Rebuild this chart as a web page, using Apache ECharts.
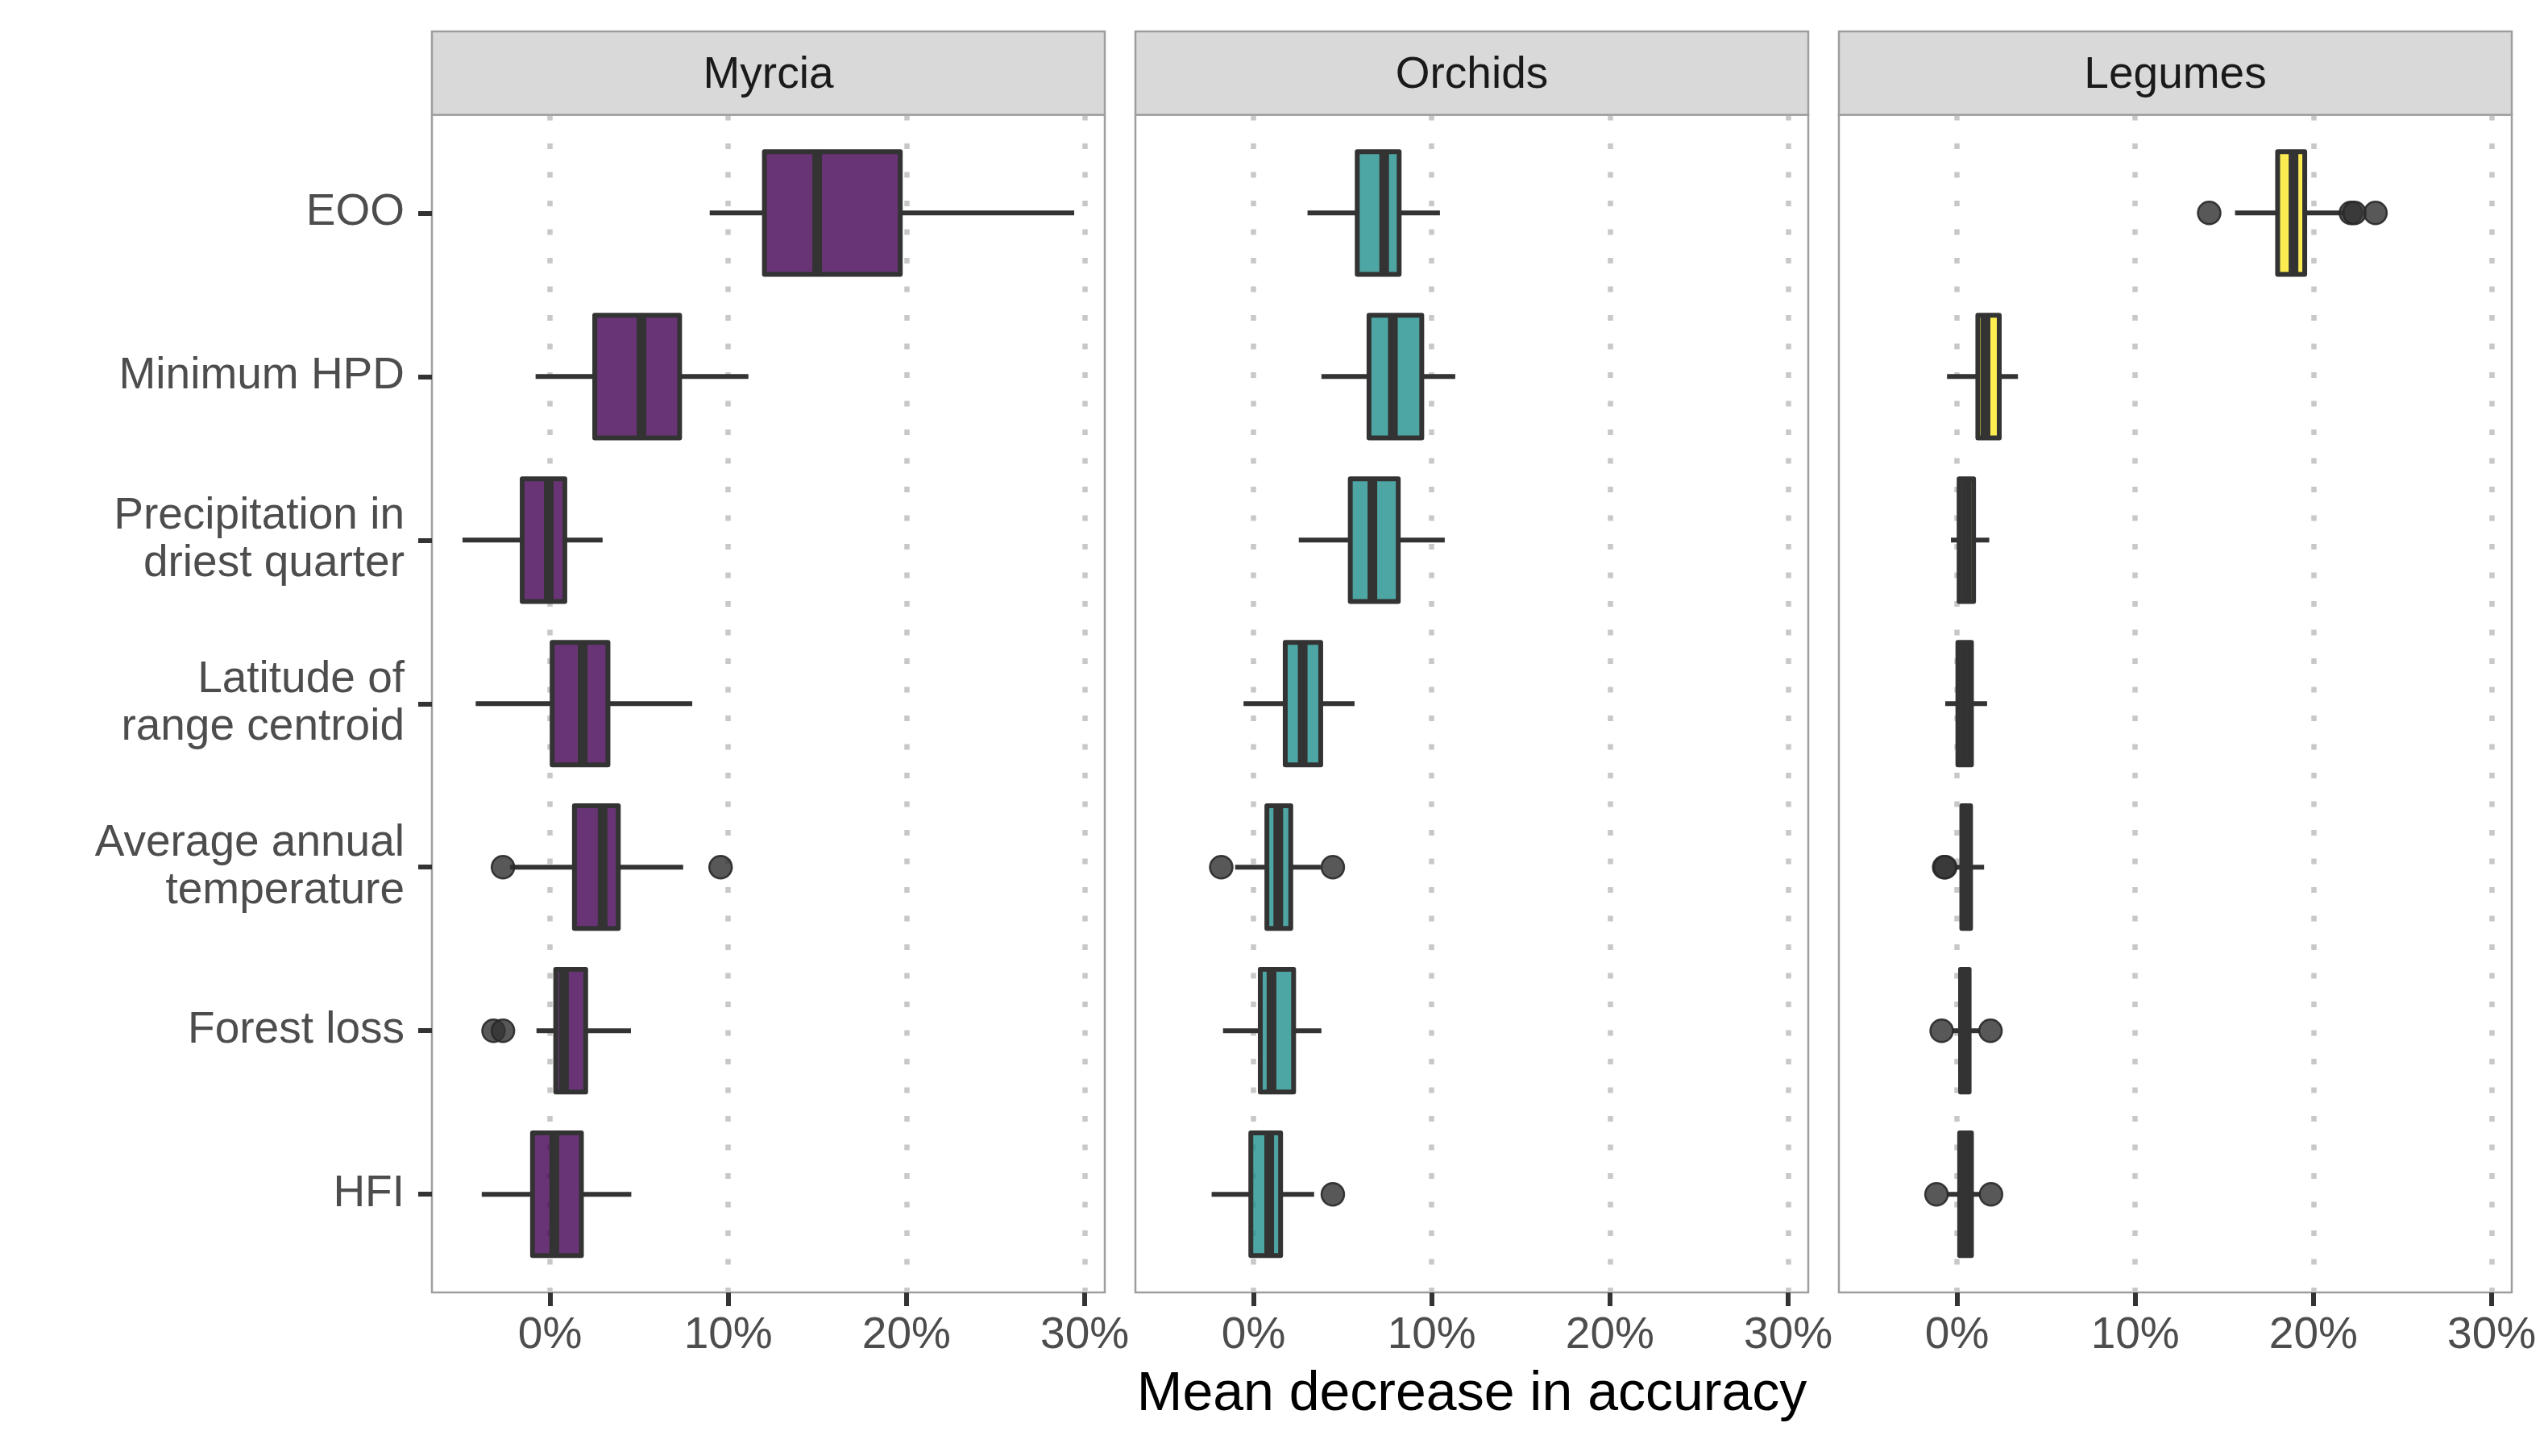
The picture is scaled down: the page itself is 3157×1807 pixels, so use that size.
<!DOCTYPE html>
<html><head><meta charset="utf-8">
<script src="https://cdn.jsdelivr.net/npm/echarts@6/dist/echarts.min.js"></script>
<style>html,body{margin:0;padding:0;background:#fff}#chart{width:3157px;height:1807px}</style>
</head><body><div id="chart"></div>
<script>
// ---------------- data ----------------
const categories = ['EOO', 'Minimum HPD', 'Precipitation in\ndriest quarter', 'Latitude of\nrange centroid',
  'Average annual\ntemperature', 'Forest loss', 'HFI'];
const panels = ['Myrcia', 'Orchids', 'Legumes'];
const xTicks = [0, 10, 20, 30];

const myrciaLow    = [8.96, -0.81, -4.91, -4.17, -2.25, -0.76, -3.83];
const myrciaQ1     = [12.03, 2.51, -1.56, 0.12, 1.37, 0.32, -0.98];
const myrciaMedian = [14.99, 5.13, -0.07, 1.83, 2.95, 0.78, 0.24];
const myrciaQ3     = [19.65, 7.27, 0.83, 3.25, 3.83, 2.00, 1.76];
const myrciaHigh   = [29.41, 11.13, 2.95, 7.98, 7.47, 4.54, 4.56];
const myrciaOutliers = [[4, -2.64], [4, 9.57], [5, -3.17], [5, -2.64]];

const orchidsLow    = [3.03, 3.81, 2.54, -0.56, -1.03, -1.71, -2.35];
const orchidsQ1     = [5.82, 6.48, 5.43, 1.78, 0.75, 0.38, -0.15];
const orchidsMedian = [7.33, 7.82, 6.67, 2.76, 1.39, 1.01, 0.88];
const orchidsQ3     = [8.17, 9.44, 8.12, 3.77, 2.09, 2.25, 1.52];
const orchidsHigh   = [10.46, 11.32, 10.73, 5.67, 3.77, 3.81, 3.40];
const orchidsOutliers = [[4, -1.81], [4, 4.45], [6, 4.45]];

const legumesLow    = [15.60, -0.56, -0.34, -0.66, -0.15, -0.24, -0.56];
const legumesQ1     = [17.99, 1.17, 0.12, 0.05, 0.27, 0.20, 0.15];
const legumesMedian = [18.88, 1.60, 0.52, 0.43, 0.51, 0.44, 0.47];
const legumesQ3     = [19.51, 2.37, 0.93, 0.81, 0.76, 0.68, 0.81];
const legumesHigh   = [21.80, 3.42, 1.81, 1.69, 1.52, 1.27, 1.30];
const legumesOutliers = [[0, 14.15], [0, 22.10], [0, 22.30], [0, 23.48], [4, -0.72], [4, -0.66],
  [5, -0.86], [5, 1.88], [6, -1.15], [6, 1.91]];

// ---------------- style / layout ----------------
const FONT = "'Liberation Sans', Arial, sans-serif";
const fills = ['rgba(68,1,84,0.8)', 'rgba(33,144,140,0.8)', 'rgba(253,231,37,0.8)'];
const PANEL_LEFT = [536, 1409, 2282], PANEL_W = 835, PANEL_TOP = 142.5, PANEL_H = 1461.5, STRIP_TOP = 39;
const BOX_WIDTH = 0.75;
const DARK = '#333333';

const stats = [
  [myrciaLow, myrciaQ1, myrciaMedian, myrciaQ3, myrciaHigh, myrciaOutliers],
  [orchidsLow, orchidsQ1, orchidsMedian, orchidsQ3, orchidsHigh, orchidsOutliers],
  [legumesLow, legumesQ1, legumesMedian, legumesQ3, legumesHigh, legumesOutliers]
];

// shared x range with ggplot-like 5% expansion
let allVals = [];
stats.forEach(s => { allVals = allVals.concat(s[0], s[4], s[5].map(o => o[1])); });
const dMin = Math.min(...allVals), dMax = Math.max(...allVals);
const xMin = dMin - 0.05 * (dMax - dMin), xMax = dMax + 0.05 * (dMax - dMin);
const positions = categories.map((c, i) => i + 1);

function renderBox(fill) {
  return function (params, api) {
    const pos = api.value(0);
    const pLow = api.coord([api.value(1), pos]);
    const pQ1 = api.coord([api.value(2), pos]);
    const pMed = api.coord([api.value(3), pos]);
    const pQ3 = api.coord([api.value(4), pos]);
    const pHigh = api.coord([api.value(5), pos]);
    const bw = Math.abs(api.size([0, BOX_WIDTH])[1]);
    const top = pQ1[1] - bw / 2;
    return {
      type: 'group',
      children: [
        { type: 'line', shape: { x1: pLow[0], y1: pLow[1], x2: pQ1[0], y2: pQ1[1] }, style: { stroke: DARK, lineWidth: 6 } },
        { type: 'line', shape: { x1: pQ3[0], y1: pQ3[1], x2: pHigh[0], y2: pHigh[1] }, style: { stroke: DARK, lineWidth: 6 } },
        { type: 'rect', shape: { x: pQ1[0], y: top, width: pQ3[0] - pQ1[0], height: bw },
          style: { fill: fill, stroke: DARK, lineWidth: 6, lineJoin: 'round' } },
        { type: 'line', shape: { x1: pMed[0], y1: top, x2: pMed[0], y2: top + bw }, style: { stroke: DARK, lineWidth: 12 } }
      ]
    };
  };
}

const grids = [], xAxes = [], yAxes = [], series = [], graphics = [];
panels.forEach((name, i) => {
  grids.push({ left: PANEL_LEFT[i], top: PANEL_TOP, width: PANEL_W, height: PANEL_H, show: true,
    borderColor: '#9e9e9e', borderWidth: 2.5, backgroundColor: '#ffffff', containLabel: false, outerBoundsMode: 'none' });
  const xa = {
    type: 'value', gridIndex: i, min: xMin, max: xMax, position: 'bottom',
    axisLine: { show: false, onZero: false },
    axisTick: { show: true, length: 17, customValues: xTicks, lineStyle: { color: DARK, width: 6 } },
    axisLabel: { customValues: xTicks, formatter: v => v + '%', fontSize: 55, color: '#4d4d4d', margin: 26, fontFamily: FONT },
    splitLine: { show: true, lineStyle: { color: '#c8c8c8', width: 6.5, type: [7, 28.5] } },
    minorSplitLine: { show: false }
  };
  if (i === 1) {
    xa.name = 'Mean decrease in accuracy';
    xa.nameLocation = 'middle';
    xa.nameGap = 93;
    xa.nameTextStyle = { fontSize: 68, color: '#000000', fontFamily: FONT };
  }
  xAxes.push(xa);
  yAxes.push({
    type: 'value', gridIndex: i, inverse: true, min: 0.4, max: 7.6, position: 'left',
    axisLine: { show: false, onZero: false }, splitLine: { show: false },
    axisTick: { show: i === 0, length: 17, customValues: positions, lineStyle: { color: DARK, width: 6 } },
    axisLabel: { show: i === 0, customValues: positions, formatter: v => categories[Math.round(v) - 1],
      fontSize: 55, lineHeight: 59, color: '#4d4d4d', margin: 34, fontFamily: FONT, align: 'right' }
  });
  const s = stats[i];
  series.push({
    type: 'custom', xAxisIndex: i, yAxisIndex: i, z: 3,
    renderItem: renderBox(fills[i]),
    encode: { x: [1, 2, 3, 4, 5], y: 0 },
    data: categories.map((c, k) => [k + 1, s[0][k], s[1][k], s[2][k], s[3][k], s[4][k]]),
    silent: true
  });
  series.push({
    type: 'scatter', xAxisIndex: i, yAxisIndex: i, z: 4, symbol: 'circle', symbolSize: 28,
    itemStyle: { color: 'rgba(51,51,51,0.82)', borderColor: 'rgba(40,40,40,0.9)', borderWidth: 2.5, opacity: 1 },
    data: s[5].map(o => [o[1], o[0] + 1]),
    silent: true
  });
  graphics.push({ type: 'rect', shape: { x: PANEL_LEFT[i], y: STRIP_TOP, width: PANEL_W, height: PANEL_TOP - STRIP_TOP },
    style: { fill: '#d9d9d9', stroke: '#9e9e9e', lineWidth: 2.5 }, z: 10 });
  graphics.push({ type: 'text', x: PANEL_LEFT[i] + PANEL_W / 2, y: (STRIP_TOP + PANEL_TOP) / 2 + 3, z: 11,
    style: { text: name, fill: '#1a1a1a', fontSize: 55, fontFamily: FONT, align: 'center', verticalAlign: 'middle' } });
});

const chart = echarts.init(document.getElementById('chart'), null, { renderer: 'canvas', width: 3157, height: 1807 });
chart.setOption({
  animation: false,
  backgroundColor: '#ffffff',
  textStyle: { fontFamily: FONT },
  grid: grids, xAxis: xAxes, yAxis: yAxes, series: series, graphic: graphics
});
</script></body></html>
